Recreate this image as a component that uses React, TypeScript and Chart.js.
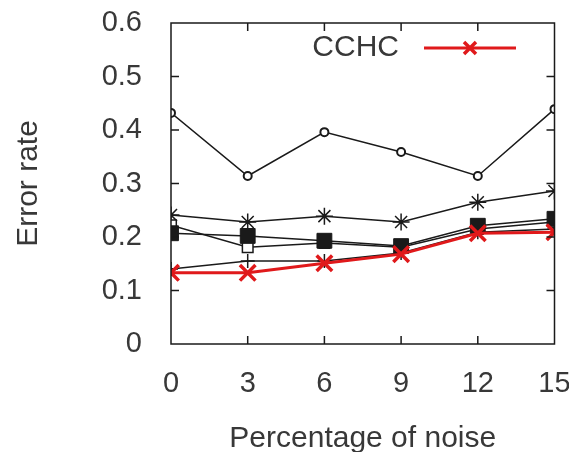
import React, { useEffect, useRef } from "react";
import { Chart, registerables } from "chart.js";

Chart.register(...registerables);

const noiseLevels = [0, 3, 6, 9, 12, 15];
const cchcValues = [0.133, 0.133, 0.151, 0.168, 0.207, 0.209];
const circleValues = [0.432, 0.314, 0.396, 0.359, 0.314, 0.439];
const starValues = [0.241, 0.228, 0.239, 0.228, 0.265, 0.286];
const filledSquareValues = [0.207, 0.202, 0.193, 0.183, 0.221, 0.234];
const openSquareValues = [0.222, 0.181, 0.189, 0.181, 0.215, 0.228];
const plusValues = [0.14, 0.155, 0.155, 0.17, 0.209, 0.215];
const yTicks = [0, 0.1, 0.2, 0.3, 0.4, 0.5, 0.6];
const xTicks = [0, 3, 6, 9, 12, 15];

const RED = "#e0191b";
const INK = "#1a1a1a";
const TEXT = "#383838";
const FONT = "'Liberation Sans', Arial, sans-serif";

const toPoints = (vals: number[]) => vals.map((v, i) => ({ x: noiseLevels[i], y: v }));

const framePlugin = {
  id: "frame",
  afterDatasetsDraw(chart: any) {
    const { ctx, chartArea: a, scales } = chart;
    ctx.save();
    ctx.strokeStyle = INK;
    ctx.lineWidth = 1.5;
    ctx.strokeRect(a.left, a.top, a.right - a.left, a.bottom - a.top);
    const tl = 8;
    ctx.beginPath();
    xTicks.forEach((t) => {
      const px = scales.x.getPixelForValue(t);
      if (px <= a.left + 1 || px >= a.right - 1) return;
      ctx.moveTo(px, a.bottom);
      ctx.lineTo(px, a.bottom - tl);
      ctx.moveTo(px, a.top);
      ctx.lineTo(px, a.top + tl);
    });
    yTicks.forEach((t) => {
      const py = scales.y.getPixelForValue(t);
      if (py <= a.top + 1 || py >= a.bottom - 1) return;
      ctx.moveTo(a.left, py);
      ctx.lineTo(a.left + tl, py);
      ctx.moveTo(a.right, py);
      ctx.lineTo(a.right - tl, py);
    });
    ctx.stroke();

    // legend (CCHC entry)
    const ds = chart.data.datasets[0];
    const ly = a.top + 25;
    const textRight = a.left + 228;
    ctx.fillStyle = TEXT;
    ctx.font = `30px ${FONT}`;
    ctx.textAlign = "right";
    ctx.textBaseline = "middle";
    ctx.fillText(ds.label, textRight, ly);
    const x1 = textRight + 25;
    const x2 = textRight + 117;
    ctx.strokeStyle = RED;
    ctx.lineWidth = 3;
    ctx.beginPath();
    ctx.moveTo(x1, ly);
    ctx.lineTo(x2, ly);
    ctx.stroke();
    const mx = (x1 + x2) / 2;
    const r = 6;
    ctx.lineWidth = 3.5;
    ctx.beginPath();
    ctx.moveTo(mx - r, ly - r);
    ctx.lineTo(mx + r, ly + r);
    ctx.moveTo(mx - r, ly + r);
    ctx.lineTo(mx + r, ly - r);
    ctx.stroke();
    ctx.restore();
  },
};

export default function App() {
  const ref = useRef<HTMLCanvasElement | null>(null);

  useEffect(() => {
    document.body.style.margin = "0";
    if (!ref.current) return;
    const chart = new Chart(ref.current, {
      type: "line",
      data: {
        datasets: [
          {
            label: "CCHC",
            data: toPoints(cchcValues),
            borderColor: RED,
            borderWidth: 3,
            pointStyle: "crossRot",
            pointRadius: 11,
            pointBorderWidth: 3.5,
            pointBorderColor: RED,
            pointBackgroundColor: RED,
          },
          {
            label: "plus",
            data: toPoints(plusValues),
            borderColor: INK,
            borderWidth: 1.5,
            pointStyle: "cross",
            pointRadius: 7,
            pointBorderWidth: 1.5,
            pointBorderColor: INK,
          },
          {
            label: "filled",
            data: toPoints(filledSquareValues),
            borderColor: INK,
            borderWidth: 1.5,
            pointStyle: "rect",
            pointRadius: 10.5,
            pointBorderWidth: 1,
            pointBorderColor: INK,
            pointBackgroundColor: INK,
          },
          {
            label: "open",
            data: toPoints(openSquareValues),
            borderColor: INK,
            borderWidth: 1.5,
            pointStyle: "rect",
            pointRadius: 7.5,
            pointBorderWidth: 1.5,
            pointBorderColor: INK,
            pointBackgroundColor: "#fff",
          },
          {
            label: "star",
            data: toPoints(starValues),
            borderColor: INK,
            borderWidth: 1.5,
            pointStyle: "star",
            pointRadius: 8.5,
            pointBorderWidth: 1.5,
            pointBorderColor: INK,
          },
          {
            label: "circle",
            data: toPoints(circleValues),
            borderColor: INK,
            borderWidth: 1.5,
            pointStyle: "circle",
            pointRadius: 4,
            pointBorderWidth: 2,
            pointBorderColor: INK,
            pointBackgroundColor: "#fff",
          },
        ],
      },
      options: {
        animation: false,
        responsive: false,
        maintainAspectRatio: false,
        layout: { padding: { top: 23, right: 14, left: 0, bottom: 0 } },
        plugins: { legend: { display: false }, tooltip: { enabled: false } },
        scales: {
          x: {
            type: "linear",
            min: 0,
            max: 15,
            afterBuildTicks: (s: any) => {
              s.ticks = xTicks.map((v) => ({ value: v }));
            },
            afterFit: (s: any) => {
              s.height = 108;
              s.paddingLeft = 0;
              s.paddingRight = 0;
            },
            grid: { display: false, drawTicks: false },
            border: { display: false },
            ticks: {
              color: TEXT,
              font: { family: FONT, size: 29 },
              padding: 23,
              maxRotation: 0,
            },
            title: {
              display: true,
              text: "Percentage of noise",
              color: TEXT,
              font: { family: FONT, size: 30, lineHeight: 0.87 },
              padding: { top: 0, bottom: 0 },
            },
          },
          y: {
            type: "linear",
            min: 0,
            max: 0.6,
            afterBuildTicks: (s: any) => {
              s.ticks = yTicks.map((v) => ({ value: v }));
            },
            afterFit: (s: any) => {
              s.width = 171;
              s.paddingTop = 0;
              s.paddingBottom = 0;
            },
            grid: { display: false, drawTicks: false },
            border: { display: false },
            ticks: {
              color: TEXT,
              font: { family: FONT, size: 29 },
              padding: 29,
              callback: (v: any) => String(Math.round(Number(v) * 10) / 10),
            },
            title: {
              display: true,
              text: "Error rate",
              color: TEXT,
              font: { family: FONT, size: 30, lineHeight: 1 },
              padding: { top: 14, bottom: 0 },
            },
          },
        },
      },
      plugins: [framePlugin],
    });
    return () => chart.destroy();
  }, []);

  return (
    <div style={{ position: "fixed", left: 0, top: 0, width: 569, height: 452, background: "#fff" }}>
      <canvas ref={ref} width={569} height={452} />
    </div>
  );
}
